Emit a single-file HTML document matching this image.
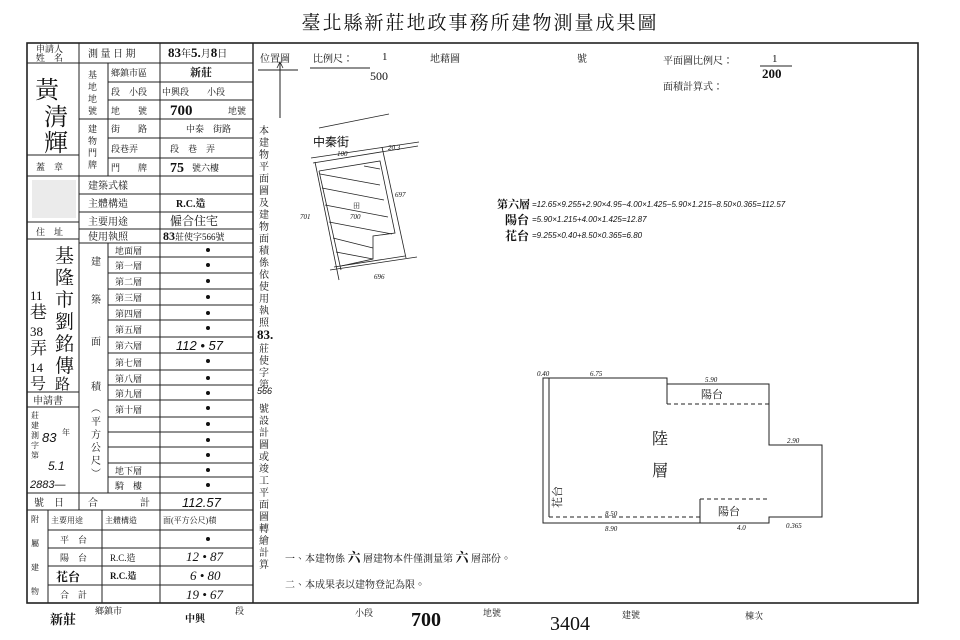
<!DOCTYPE html>
<html><head><meta charset="utf-8"><style>
html,body{margin:0;padding:0;background:#fff;}
svg{display:block;}
text{font-family:"Liberation Serif","Noto Serif CJK TC","Noto Serif CJK SC",serif;fill:#111;}
.s{font-size:10px;}
.b{font-size:13px;font-weight:bold;}
.h{font-family:"Liberation Sans","WenQuanYi Zen Hei",sans-serif;font-style:italic;font-size:7px;}
.hw{font-family:"Liberation Sans","WenQuanYi Zen Hei",sans-serif;}
</style></head><body>
<svg width="960" height="640" viewBox="0 0 960 640" xmlns="http://www.w3.org/2000/svg">
<g stroke="#222" fill="none">
<rect x="27" y="43" width="891" height="560" stroke-width="1.6"/>
<g stroke-width="1">
<line x1="79" y1="43" x2="79" y2="510"/>
<line x1="160" y1="43" x2="160" y2="603"/>
<line x1="253" y1="43" x2="253" y2="603" stroke-width="1.4"/>
<line x1="108" y1="63" x2="108" y2="176"/>
<line x1="108" y1="243" x2="108" y2="493"/>
<line x1="48" y1="510" x2="48" y2="603"/>
<line x1="102" y1="510" x2="102" y2="603"/>
<line x1="27" y1="63" x2="253" y2="63"/>
<line x1="108" y1="82" x2="253" y2="82"/>
<line x1="108" y1="100" x2="253" y2="100"/>
<line x1="79" y1="119" x2="253" y2="119"/>
<line x1="108" y1="138" x2="253" y2="138"/>
<line x1="108" y1="158" x2="253" y2="158"/>
<line x1="27" y1="155" x2="79" y2="155"/>
<line x1="27" y1="176" x2="253" y2="176"/>
<line x1="79" y1="194" x2="253" y2="194"/>
<line x1="79" y1="212" x2="253" y2="212"/>
<line x1="79" y1="229" x2="253" y2="229"/>
<line x1="79" y1="243" x2="253" y2="243"/>
<line x1="27" y1="222" x2="79" y2="222"/>
<line x1="27" y1="239" x2="79" y2="239"/>
<line x1="27" y1="392" x2="79" y2="392"/>
<line x1="27" y1="407" x2="79" y2="407"/>
<line x1="108" y1="257" x2="253" y2="257"/>
<line x1="108" y1="273" x2="253" y2="273"/>
<line x1="108" y1="289" x2="253" y2="289"/>
<line x1="108" y1="305" x2="253" y2="305"/>
<line x1="108" y1="320" x2="253" y2="320"/>
<line x1="108" y1="337" x2="253" y2="337"/>
<line x1="108" y1="353" x2="253" y2="353"/>
<line x1="108" y1="370" x2="253" y2="370"/>
<line x1="108" y1="385" x2="253" y2="385"/>
<line x1="108" y1="400" x2="253" y2="400"/>
<line x1="108" y1="417" x2="253" y2="417"/>
<line x1="108" y1="432" x2="253" y2="432"/>
<line x1="108" y1="447" x2="253" y2="447"/>
<line x1="108" y1="463" x2="253" y2="463"/>
<line x1="108" y1="477" x2="253" y2="477"/>
<line x1="27" y1="493" x2="253" y2="493"/>
<line x1="27" y1="510" x2="253" y2="510"/>
<line x1="48" y1="530" x2="253" y2="530"/>
<line x1="48" y1="548" x2="253" y2="548"/>
<line x1="48" y1="566" x2="253" y2="566"/>
<line x1="48" y1="585" x2="253" y2="585"/>
<line x1="258" y1="70" x2="298" y2="70"/>
<line x1="280" y1="62" x2="280" y2="118"/>
<line x1="310" y1="68" x2="370" y2="68"/>
<line x1="760" y1="66" x2="792" y2="66"/>
</g>
<path d="M277,68 L280,62 L283,68" stroke-width="0.8"/>
<g stroke-width="0.8">
<line x1="319" y1="128" x2="389" y2="114"/>
<line x1="311" y1="158" x2="419" y2="142"/>
<line x1="313" y1="163" x2="418" y2="146"/>
<line x1="315" y1="162" x2="339" y2="280"/>
<line x1="319" y1="171" x2="341" y2="270"/>
<line x1="382" y1="147" x2="406" y2="258"/>
<line x1="330" y1="270" x2="417" y2="257"/>
<line x1="334" y1="267" x2="405" y2="256"/>
<path d="M319,171 L380,161 L395,233 L373,236 L373,259 L341,266"/>
<line x1="320" y1="174" x2="380" y2="185"/>
<line x1="322" y1="188" x2="384" y2="200"/>
<line x1="325" y1="205" x2="388" y2="217"/>
<line x1="329" y1="222" x2="392" y2="234"/>
<line x1="333" y1="238" x2="373" y2="248"/>
<line x1="336" y1="252" x2="373" y2="259"/>
<line x1="364" y1="166" x2="380" y2="169"/>
</g>
<g stroke-width="1">
<path d="M543,378 L667,378 L667,384 L769,384 L769,445 L822,445 L822,517 L769,517 L769,523 L543,523 Z"/>
<line x1="549" y1="378" x2="549" y2="517"/>
<line x1="667" y1="384" x2="667" y2="404"/>
<line x1="700" y1="499" x2="700" y2="523"/>
<line x1="700" y1="499" x2="769" y2="499" stroke-dasharray="4,3"/>
<line x1="667" y1="404" x2="769" y2="404" stroke-dasharray="4,3"/>
<line x1="549" y1="517" x2="700" y2="517" stroke-dasharray="4,3"/>
</g>
</g>
<text x="480" y="29" text-anchor="middle" style="font-size:19px;letter-spacing:2px">臺北縣新莊地政事務所建物測量成果圖</text>
<g class="s">
<text x="36" y="52" style="font-size:9px">申請人</text>
<text x="36" y="61" style="font-size:9px">姓　名</text>
<text x="88" y="57">測 量 日 期</text>
<text x="168" y="57" class="b" style="font-size:13px">83<tspan font-size="10" font-weight="normal">年</tspan>5.<tspan font-size="10" font-weight="normal">月</tspan>8<tspan font-size="10" font-weight="normal">日</tspan></text>
<text x="88" y="78" style="font-size:9px">基</text><text x="88" y="90" style="font-size:9px">地</text><text x="88" y="102" style="font-size:9px">地</text><text x="88" y="114" style="font-size:9px">號</text>
<text x="111" y="76" style="font-size:9px">鄉鎮市區</text>
<text x="190" y="76" style="font-size:11px;font-weight:bold">新莊</text>
<text x="111" y="95" style="font-size:9px">段　小段</text>
<text x="162" y="95" style="font-size:9px">中興段　　小段</text>
<text x="111" y="114" style="font-size:9px">地　　號</text>
<text x="170" y="115" class="b" style="font-size:15px">700</text><text x="228" y="114" style="font-size:9px">地號</text>
<text x="88" y="132" style="font-size:9px">建</text><text x="88" y="144" style="font-size:9px">物</text><text x="88" y="156" style="font-size:9px">門</text><text x="88" y="168" style="font-size:9px">牌</text>
<text x="111" y="132" style="font-size:9px">街　　路</text>
<text x="186" y="132" style="font-size:9px">中泰　街路</text>
<text x="111" y="152" style="font-size:9px">段巷弄</text>
<text x="170" y="152" style="font-size:9px">段　巷　弄</text>
<text x="111" y="171" style="font-size:9px">門　　牌</text>
<text x="170" y="172" class="b" style="font-size:14px">75</text><text x="192" y="171" style="font-size:9px">號六樓</text>
<text x="88" y="189">建築式樣</text>
<text x="88" y="207">主體構造</text>
<text x="176" y="207" style="font-weight:bold">R.C.造</text>
<text x="88" y="225">主要用途</text>
<text x="170" y="225" style="font-size:12px">僱合住宅</text>
<text x="88" y="240">使用執照</text>
<text x="163" y="240" style="font-size:9px"><tspan font-weight="bold" font-size="12">83</tspan>莊使字566號</text>
<text x="36" y="170" style="font-size:9px">蓋　章</text>
<text x="36" y="235" style="font-size:9px">住　址</text>
<text x="91" y="265">建</text><text x="91" y="303">築</text><text x="91" y="345">面</text><text x="91" y="390">積</text>
<text x="91" y="412">︵</text><text x="91" y="425">平</text><text x="91" y="438">方</text><text x="91" y="451">公</text><text x="91" y="464">尺</text><text x="91" y="477">︶</text>
</g>
<g style="font-size:9px">
<text x="115" y="254">地面層</text><text x="115" y="269">第一層</text><text x="115" y="285">第二層</text><text x="115" y="301">第三層</text><text x="115" y="317">第四層</text><text x="115" y="333">第五層</text><text x="115" y="349">第六層</text><text x="115" y="366">第七層</text><text x="115" y="382">第八層</text><text x="115" y="397">第九層</text><text x="115" y="413">第十層</text><text x="115" y="474">地下層</text><text x="115" y="489">騎　樓</text>
</g>
<g fill="#111">
<circle cx="208" cy="250" r="2"/><circle cx="208" cy="265" r="2"/><circle cx="208" cy="281" r="2"/><circle cx="208" cy="297" r="2"/><circle cx="208" cy="313" r="2"/><circle cx="208" cy="328" r="2"/><circle cx="208" cy="361" r="2"/><circle cx="208" cy="378" r="2"/><circle cx="208" cy="393" r="2"/><circle cx="208" cy="408" r="2"/><circle cx="208" cy="424" r="2"/><circle cx="208" cy="440" r="2"/><circle cx="208" cy="455" r="2"/><circle cx="208" cy="470" r="2"/><circle cx="208" cy="485" r="2"/><circle cx="208" cy="539" r="2"/>
</g>
<text x="176" y="350" class="hw" style="font-size:13px;font-style:italic">112 • 57</text>
<text x="88" y="506" class="s">合</text><text x="140" y="506" class="s">計</text>
<text x="182" y="507" class="hw" style="font-size:13px;font-style:italic">112.57</text>
<text x="34" y="506" class="s">號　日</text>
<text x="33" y="404" class="s">申請書</text>
<g style="font-size:8px"><text x="31" y="418">莊</text><text x="31" y="428">建</text><text x="31" y="438">測</text><text x="31" y="448">字</text><text x="31" y="458">第</text><text x="62" y="435">年</text></g>
<text x="42" y="442" class="hw" style="font-size:13px;font-style:italic">83</text>
<text x="48" y="470" class="hw" style="font-size:12px;font-style:italic">5.1</text>
<text x="30" y="488" class="hw" style="font-size:11px;font-style:italic">2883—</text>
<g style="font-size:8px">
<text x="31" y="522">附</text><text x="31" y="546">屬</text><text x="31" y="570">建</text><text x="31" y="594">物</text>
<text x="51" y="523">主要用途</text><text x="105" y="523">主體構造</text><text x="163" y="523">面(平方公尺)積</text>
<text x="60" y="543" style="font-size:9px">平　台</text>
<text x="60" y="561" style="font-size:9px">陽　台</text>
<text x="110" y="561" style="font-size:9px">R.C.造</text>
<text x="56" y="581" style="font-size:12px;font-weight:bold">花台</text>
<text x="110" y="579" style="font-size:9px;font-weight:bold">R.C.造</text>
<text x="60" y="598" style="font-size:9px">合　計</text>
</g>
<g class="hw" style="font-size:13px;font-style:italic">
<text x="186" y="561">12 • 87</text><text x="190" y="580">6 • 80</text><text x="186" y="599">19 • 67</text>
</g>
<g class="hw" style="font-size:24px">
<text x="35" y="98">黃</text><text x="44" y="125">清</text><text x="44" y="151">輝</text>
</g>
<rect x="32" y="180" width="44" height="38" fill="#ddd" opacity="0.6"/>
<g class="hw" style="font-size:19px">
<text x="55" y="262">基</text><text x="55" y="284">隆</text><text x="55" y="306">市</text><text x="55" y="328">劉</text><text x="55" y="350">銘</text><text x="55" y="372">傳</text><text x="55" y="389" style="font-size:15px">路</text>
<text x="30" y="300" style="font-size:13px">11</text><text x="30" y="318" style="font-size:17px">巷</text><text x="30" y="336" style="font-size:13px">38</text><text x="30" y="354" style="font-size:17px">弄</text><text x="30" y="372" style="font-size:13px">14</text><text x="30" y="389" style="font-size:16px">号</text>
</g>
<g style="font-size:10px">
<text x="259" y="134">本</text><text x="259" y="146">建</text><text x="259" y="158">物</text><text x="259" y="170">平</text><text x="259" y="182">面</text><text x="259" y="194">圖</text><text x="259" y="206">及</text><text x="259" y="218">建</text><text x="259" y="230">物</text><text x="259" y="242">面</text><text x="259" y="254">積</text><text x="259" y="266">係</text><text x="259" y="278">依</text><text x="259" y="290">使</text><text x="259" y="302">用</text><text x="259" y="314">執</text><text x="259" y="326">照</text>
<text x="257" y="339" style="font-size:13px;font-weight:bold">83.</text>
<text x="259" y="352">莊</text><text x="259" y="364">使</text><text x="259" y="376">字</text><text x="259" y="388">第</text>
<text x="257" y="394" class="hw" style="font-size:9px;font-style:italic">566</text>
<text x="259" y="412">號</text><text x="259" y="424">設</text><text x="259" y="436">計</text><text x="259" y="448">圖</text><text x="259" y="460">或</text><text x="259" y="472">竣</text><text x="259" y="484">工</text><text x="259" y="496">平</text><text x="259" y="508">面</text><text x="259" y="520">圖</text><text x="259" y="532">轉</text><text x="259" y="544">繪</text><text x="259" y="556">計</text><text x="259" y="568">算</text>
</g>
<g style="font-size:10px">
<text x="260" y="62">位置圖</text>
<text x="313" y="62">比例尺：</text>
<text x="382" y="60" style="font-size:11px">1</text>
<text x="370" y="80" style="font-size:12px">500</text>
<text x="430" y="62">地藉圖</text>
<text x="577" y="62">號</text>
<text x="663" y="64">平面圖比例尺：</text>
<text x="772" y="62" style="font-size:11px">1</text>
<text x="762" y="78" style="font-size:13px;font-weight:bold">200</text>
<text x="663" y="90">面積計算式：</text>
</g>
<text x="313" y="146" class="hw" style="font-size:12px">中秦街</text>
<g class="h"><text x="337" y="156">100</text><text x="388" y="150">20.3</text><text x="300" y="219">701</text><text x="350" y="219">700</text><text x="395" y="197">697</text><text x="374" y="279">696</text></g>
<text x="353" y="208" style="font-size:7px">田</text>
<text x="497" y="208" style="font-size:11px;font-weight:bold">第六層</text>
<text x="532" y="207" class="hw" style="font-size:8px;font-style:italic">=12.65×9.255+2.90×4.95−4.00×1.425−5.90×1.215−8.50×0.365=112.57</text>
<text x="505" y="224" style="font-size:12px;font-weight:bold">陽台</text>
<text x="532" y="222" class="hw" style="font-size:8px;font-style:italic">=5.90×1.215+4.00×1.425=12.87</text>
<text x="505" y="240" style="font-size:12px;font-weight:bold">花台</text>
<text x="532" y="238" class="hw" style="font-size:8px;font-style:italic">=9.255×0.40+8.50×0.365=6.80</text>
<text x="652" y="444" style="font-size:16px">陸</text>
<text x="652" y="476" style="font-size:16px">層</text>
<text x="701" y="398" style="font-size:11px">陽台</text>
<text x="718" y="515" style="font-size:11px">陽台</text>
<text x="540" y="513" style="font-size:11px" transform="rotate(-90 548 500)">花台</text>
<g class="h">
<text x="537" y="376">0.40</text><text x="590" y="376">6.75</text><text x="705" y="382">5.90</text><text x="787" y="443">2.90</text><text x="605" y="516">8.50</text><text x="605" y="531">8.90</text><text x="737" y="530">4.0</text><text x="786" y="528">0.365</text>
</g>
<g style="font-size:10px">
<text x="285" y="562">一、本建物係 <tspan font-size="13" font-weight="bold">六</tspan>  層建物本件僅測量第 <tspan font-size="13" font-weight="bold">六</tspan>  層部份。</text>
<text x="285" y="588">二、本成果表以建物登記為限。</text>
</g>
<text x="50" y="624" style="font-size:13px;font-weight:bold">新莊</text>
<text x="95" y="614" style="font-size:9px">鄉鎮市</text>
<text x="185" y="622" style="font-size:10px;font-weight:bold">中興</text>
<text x="235" y="614" style="font-size:9px">段</text>
<text x="355" y="616" style="font-size:9px">小段</text>
<text x="411" y="626" style="font-size:20px;font-weight:bold">700</text>
<text x="483" y="616" style="font-size:9px">地號</text>
<text x="550" y="630" style="font-size:20px">3404</text>
<text x="622" y="618" style="font-size:9px">建號</text>
<text x="745" y="619" style="font-size:9px">棟次</text>
</svg>
</body></html>
